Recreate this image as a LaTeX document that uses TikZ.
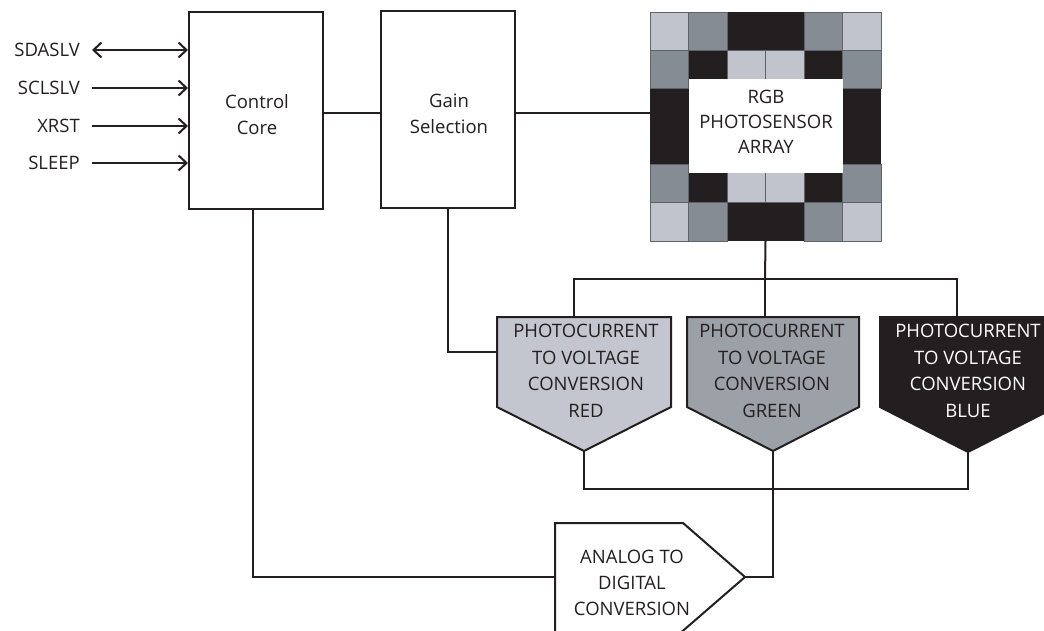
\documentclass[tikz,border=0pt]{standalone}
\usepackage{fontspec}
\setmainfont{Open Sans}
\usetikzlibrary{arrows.meta}
\definecolor{ink}{HTML}{231F20}
\definecolor{lgray}{HTML}{C1C4CC}
\definecolor{mgray}{HTML}{858C93}
\definecolor{ggray}{HTML}{9CA1A8}
\definecolor{rgray}{HTML}{C3C6CE}
\definecolor{gridc}{HTML}{5F6368}
\begin{document}
\begin{tikzpicture}[x=1pt,y=-1pt,line join=miter,
  wire/.style={draw=ink,line width=2pt},
  blk/.style={draw=ink,line width=2pt,fill=white,rectangle,inner sep=0pt},
  txt/.style={font=\fontsize{18.5}{26}\selectfont,text=ink,align=center,inner sep=0pt},
  inarrow/.style={wire,-{Straight Barb[length=8pt,width=15pt]}},
  biarrow/.style={wire,{Straight Barb[length=8pt,width=15pt]}-{Straight Barb[length=8pt,width=15pt]}},
  cellL/.style={fill=lgray,draw=gridc,line width=0.7pt},
  cellM/.style={fill=mgray,draw=gridc,line width=0.7pt},
  cellB/.style={fill=ink}]
\useasboundingbox (0,0) rectangle (1044,631);

% blocks
\node[blk,minimum width=134,minimum height=197] (cc) at (256,110.5) {};
\node[txt] (cct) at (257,115) {Control\\Core};
\node[blk,minimum width=134,minimum height=197] (gs) at (448,109.5) {};
\node[txt] (gst) at (449,114) {Gain\\Selection};

% photosensor array
\node[minimum width=231,minimum height=229,inner sep=0pt] (arr) at (765.5,126.5) {};
\foreach \c/\r in {2/0,3/0,1/1,4/1,0/2,5/2,0/3,5/3,1/4,4/4,2/5,3/5}
  \path[cellB] (650+\c*38.5,12+\r*38.17) rectangle ++(38.5,38.17);
\foreach \c/\r in {0/0,5/0,2/1,3/1,2/4,3/4,0/5,5/5}
  \path[cellL] (650+\c*38.5,12+\r*38.17) rectangle ++(38.5,38.17);
\foreach \c/\r in {1/0,4/0,0/1,5/1,0/4,5/4,1/5,4/5}
  \path[cellM] (650+\c*38.5,12+\r*38.17) rectangle ++(38.5,38.17);
\fill[white] (688.5,79) rectangle (842.5,173);
\node[txt,font=\fontsize{18.5}{25}\selectfont] (arrt) at (766,122) {RGB\\PHOTOSENSOR\\ARRAY};

% conversion pentagons
\draw[wire,fill=rgray] (497,317) -- (671,317) -- (671,407) -- (584,451) -- (497,407) -- cycle;
\draw[wire,fill=ggray] (687,317) -- (859,317) -- (859,407) -- (773,451) -- (687,407) -- cycle;
\draw[wire,fill=ink] (880,317) -- (1056,317) -- (1056,407) -- (968,452) -- (880,407) -- cycle;
\node[txt,font=\fontsize{18.5}{26.5}\selectfont] (redt) at (586,371) {PHOTOCURRENT\\TO VOLTAGE\\CONVERSION\\RED};
\node[txt,font=\fontsize{18.5}{26.5}\selectfont] (grnt) at (772,371) {PHOTOCURRENT\\TO VOLTAGE\\CONVERSION\\GREEN};
\node[txt,font=\fontsize{18.5}{26.5}\selectfont,text=white] (blut) at (968,371) {PHOTOCURRENT\\TO VOLTAGE\\CONVERSION\\BLUE};
\coordinate (redtop) at (574,317);
\coordinate (grntop) at (765,317);
\coordinate (blutop) at (957,317);
\coordinate (redleft) at (497,352);
\coordinate (redtip) at (584,451);
\coordinate (grntip) at (773,451);
\coordinate (blutip) at (968,452);
\coordinate (bus) at (765,279);

% ADC
\draw[wire] (555,645) -- (555,523) -- (683,523) -- (745,577) -- (670,642);
\node[txt] (adct) at (632,583) {ANALOG TO\\DIGITAL\\CONVERSION};
\coordinate (adcL) at (555,577);
\coordinate (adcT) at (745,577);

% inputs
\node[txt,anchor=east] (sda) at (80,50) {SDASLV};
\node[txt,anchor=east] (scl) at (80,88) {SCLSLV};
\node[txt,anchor=east] (xrst) at (80,126) {XRST};
\node[txt,anchor=east] (slp) at (80,163) {SLEEP};
\draw[biarrow] ([xshift=12pt]sda.east) -- (sda.east -| cc.west);
\draw[inarrow] ([xshift=12pt]scl.east) -- (scl.east -| cc.west);
\draw[inarrow] ([xshift=12pt]xrst.east) -- (xrst.east -| cc.west);
\draw[inarrow] ([xshift=12pt]slp.east) -- (slp.east -| cc.west);

% connectors
\draw[wire] ([yshift=-2.5pt]cc.east) -- ([yshift=-2.5pt]cc.east -| gs.west);
\draw[wire] ([yshift=-3.5pt]gs.east) -- ([yshift=-3.5pt]gs.east -| arr.west);
\draw[wire] (arr.south) -- (bus);
\draw[wire] (redtop) |- (bus) -| (blutop);
\draw[wire] (bus) -- (grntop);
\draw[wire] (gs.south) |- (redleft);
\draw[wire] (redtip) -- ++(0,38) -| (blutip);
\draw[wire] (grntip) |- (adcT);
\draw[wire] ([xshift=-3pt]cc.south) |- (adcL);
\end{tikzpicture}
\end{document}
